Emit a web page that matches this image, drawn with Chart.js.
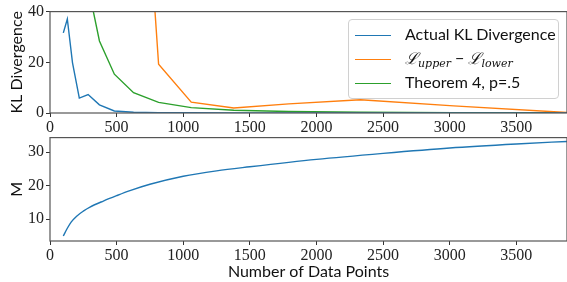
<!DOCTYPE html>
<html>
<head>
<meta charset="utf-8">
<script src="https://cdn.jsdelivr.net/npm/chart.js@4"></script>
<style>
 html,body{margin:0;padding:0;background:#fff;}
 body{width:567px;height:282px;position:relative;overflow:hidden;}
 .caja{position:absolute;left:0;width:567px;}
 #cajaKL{top:0;height:136px;}
 #cajaM{top:126px;height:156px;}
 #leyenda{position:absolute;left:348px;top:19px;width:209px;height:78px;border:1px solid #d0d0d0;border-radius:4px;background:rgba(255,255,255,0.85);font-family:Lato,"DejaVu Sans",sans-serif;font-size:16px;color:#111;}
 .fila{position:absolute;left:6px;height:22px;line-height:22px;white-space:nowrap;}
 .muestra{display:inline-block;width:36px;height:0;border-top:1.5px solid;vertical-align:middle;margin-right:14px;}
 .mat{font-family:"DejaVu Serif",serif;font-style:italic;}
 .mat sub{font-size:11px;vertical-align:-3px;}
</style>
</head>
<body>
<div class="caja" id="cajaKL"><canvas id="graficoKL"></canvas></div>
<div class="caja" id="cajaM"><canvas id="graficoM"></canvas></div>
<div id="leyenda"></div>
<script>
document.addEventListener("DOMContentLoaded", function(){

// puntos de datos (eje x comun)
const N_PUNTOS=[100,130,169,220,286,371,483,627,815,1060,1379,1792,2330,3029,3937];
const KL_REAL=[31.6,37.1,19.8,5.9,7.3,3.2,0.8,0.3,0.15,0.08,0.05,0.03,0.02,0.01,0.01];
const KL_COTAS=[2500,1800,1300,900,600,400,260,164,19.2,4.3,2.0,3.6,5.2,2.8,0.0];
const KL_TEOREMA=[650,340,180,95,50,28.4,15.3,8.0,4.2,2.1,1.1,0.6,0.3,0.15,0.08];

// curva M
const M_X=[100,130,160,200,250,300,400,500,600,750,1000,1250,1500,2000,2500,3000,3500,3900];
const M_VAL=[5.0,7.3,9.2,10.9,12.4,13.6,15.4,17.0,18.5,20.4,22.8,24.4,25.6,27.8,29.6,31.2,32.4,33.2];

const X_TICKS=[0,500,1000,1500,2000,2500,3000,3500];
const KL_TICKS=[0,20,40];
const M_TICKS=[10,20,30];

const AZUL='#1f77b4',NARANJA='#ff7f0e',VERDE='#2ca02c';
const SERIF='"Liberation Serif","DejaVu Serif",serif';
const SANS='Lato,"DejaVu Sans",sans-serif';

const aPuntos=(xs,ys)=>xs.map((x,i)=>({x:x,y:ys[i]}));
const fijarTicks=vals=>s=>{s.ticks=vals.map(v=>({value:v}));};

const marco={
 id:'marco',
 afterDraw(c){
  const a=c.chartArea,ctx=c.ctx;
  ctx.save();
  ctx.strokeStyle='#555';
  ctx.lineWidth=1.2;
  ctx.strokeRect(a.left,a.top,a.right-a.left,a.bottom-a.top);
  ctx.restore();
 }
};

function ejeX(alto,titulo){
 return {
  type:'linear',min:0,max:3880,
  afterBuildTicks:fijarTicks(X_TICKS),
  afterFit:s=>{s.height=alto;},
  grid:{drawOnChartArea:false,drawTicks:true,tickLength:4,color:'#333',lineWidth:1},
  border:{display:false},
  ticks:{font:{family:SERIF,size:16},color:'#222',padding:1,maxRotation:0,callback:v=>String(v)},
  title:titulo?{display:true,text:titulo,font:{family:SANS,size:16},color:'#111',padding:{top:0,bottom:1}}:{display:false}
 };
}
function ejeY(min,max,ticks,titulo){
 return {
  min:min,max:max,
  afterBuildTicks:fijarTicks(ticks),
  afterFit:s=>{s.width=50;},
  grid:{drawOnChartArea:false,drawTicks:true,tickLength:4,color:'#333',lineWidth:1},
  border:{display:false},
  ticks:{font:{family:SERIF,size:16},color:'#222',padding:2,callback:v=>String(v)},
  title:{display:true,text:titulo,font:{family:SANS,size:16},color:'#111',padding:{top:7,bottom:0}}
 };
}
const serie=(label,data,color)=>({label:label,data:data,borderColor:color,backgroundColor:color,borderWidth:1.4,pointRadius:0,fill:false,tension:0});

const charts={};
charts.kl=new Chart(document.getElementById('graficoKL').getContext('2d'),{
 type:'line',
 data:{datasets:[
  serie('Actual KL Divergence',aPuntos(N_PUNTOS,KL_REAL),AZUL),
  serie('Lupper - Llower',aPuntos(N_PUNTOS,KL_COTAS),NARANJA),
  serie('Theorem 4, p=.5',aPuntos(N_PUNTOS,KL_TEOREMA),VERDE)
 ]},
 options:{
  responsive:true,maintainAspectRatio:false,animation:false,
  layout:{padding:{top:11,right:0,left:0,bottom:0}},
  plugins:{legend:{display:false},tooltip:{enabled:false}},
  scales:{x:ejeX(23,null),y:ejeY(0,40,KL_TICKS,'KL Divergence')}
 },
 plugins:[marco]
});

const dsM=serie('M',aPuntos(M_X,M_VAL),AZUL);
dsM.cubicInterpolationMode='monotone';
charts.m=new Chart(document.getElementById('graficoM').getContext('2d'),{
 type:'line',
 data:{datasets:[dsM]},
 options:{
  responsive:true,maintainAspectRatio:false,animation:false,
  layout:{padding:{top:2,right:0,left:0,bottom:0}},
  plugins:{legend:{display:false},tooltip:{enabled:false}},
  scales:{x:ejeX(41,'Number of Data Points'),y:ejeY(3.5,34.3,M_TICKS,'M')}
 },
 plugins:[marco]
});

// leyenda en HTML para poder escribir los subindices
const ley=document.getElementById('leyenda');
const filas=[
 {html:'Actual KL Divergence',color:AZUL},
 {html:'<span class="mat">ℒ<sub>upper</sub></span> − <span class="mat">ℒ<sub>lower</sub></span>',color:NARANJA},
 {html:'Theorem 4, p=.5',color:VERDE}
];
filas.forEach((f,i)=>{
 const d=document.createElement('div');
 d.className='fila';
 d.style.top=(3+i*24)+'px';
 d.innerHTML='<span class="muestra" style="border-color:'+f.color+'"></span>'+f.html;
 ley.appendChild(d);
});

});
</script>
</body>
</html>
